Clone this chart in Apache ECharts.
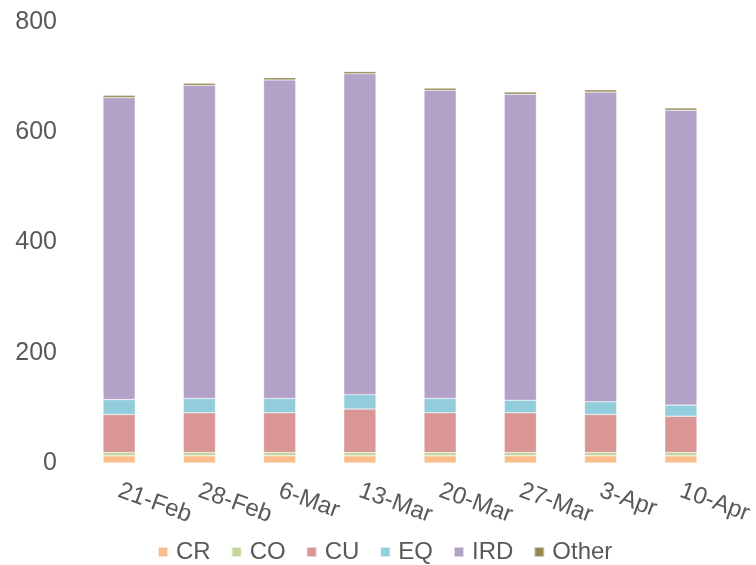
<!DOCTYPE html>
<html>
<head>
<meta charset="utf-8">
<script src="https://cdn.jsdelivr.net/npm/echarts@6/dist/echarts.min.js"></script>
<style>html,body{margin:0;padding:0;background:#fff}#c{width:756px;height:565px}</style>
</head>
<body>
<div id="c"></div>
<script>
var categories = ['21-Feb','28-Feb','6-Mar','13-Mar','20-Mar','27-Mar','3-Apr','10-Apr'];
var CR    = [13, 13, 13, 13, 13, 13, 13, 13];
var CO    = [6, 6, 6, 6, 6, 6, 6, 6];
var CU    = [69, 72, 72, 79, 72, 72, 69, 66];
var EQ    = [27, 26, 26, 26, 26, 23, 23, 20];
var IRD   = [548, 568, 578, 582, 559, 555, 562, 535];
var Other = [4, 4, 4, 4, 4, 4, 4, 4];
var yTicks = [0, 200, 400, 600, 800];

var names = ['CR','CO','CU','EQ','IRD','Other'];
var data = [CR, CO, CU, EQ, IRD, Other];
var colors = ['#F9BE8C','#C3D69B','#D99694','#92CDDC','#B3A2C7','#948A54'];
var font = 'Liberation Sans, Arial, sans-serif';

var chart = echarts.init(document.getElementById('c'));
chart.setOption({
  animation: false,
  color: colors,
  grid: {left: 79, right: 35, top: 22, bottom: 102},
  legend: {
    top: 540, left: 157, padding: 0,
    icon: 'rect', itemWidth: 10, itemHeight: 10, itemGap: 20,
    textStyle: {color: '#595959', fontSize: 24, fontFamily: font, padding: [0, 0, 0, 3]},
    data: names
  },
  xAxis: {
    type: 'category', data: categories,
    axisLine: {show: false}, axisTick: {show: false},
    axisLabel: {color: '#595959', fontSize: 24, fontFamily: font, rotate: -20, margin: 27, interval: 0, align: 'left'}
  },
  yAxis: {
    type: 'value', min: yTicks[0], max: yTicks[yTicks.length-1], interval: 200,
    splitLine: {show: false}, axisLine: {show: false}, axisTick: {show: false},
    axisLabel: {color: '#595959', fontSize: 25, fontFamily: font, margin: 22}
  },
  series: names.map(function(n, i){
    return {name: n, type: 'bar', stack: 'total', barWidth: '40%', data: data[i],
      itemStyle: {color: colors[i], borderColor: 'rgba(255,255,255,0.6)', borderWidth: 0.5}};
  })
});
</script>
</body>
</html>
